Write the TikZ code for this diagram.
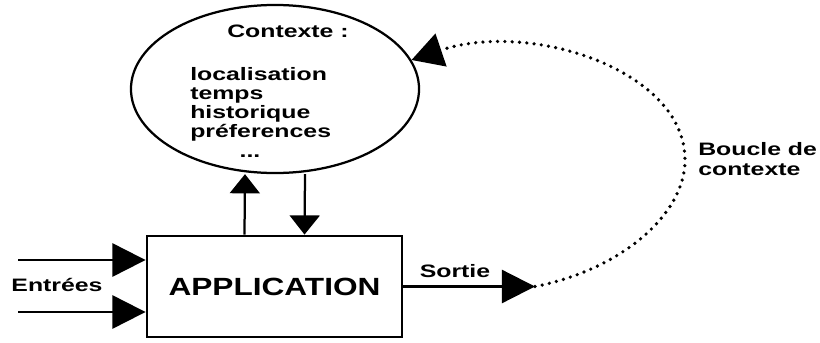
\documentclass[tikz,border=0pt]{standalone}
\usepackage{fontspec}
\usetikzlibrary{arrows.meta, shapes.geometric}
\newfontfamily\lblfont[FakeStretch=1.38]{Liberation Sans}
\newfontfamily\appfont[FakeStretch=1.27]{Liberation Sans}
\tikzset{
	lbl/.style={font=\lblfont\bfseries\fontsize{12.8}{14.2}\selectfont, inner sep=0pt},
	htip/.style={line width=1.6pt, -{Triangle[length=0.83cm, width=0.83cm]}},
	vtip/.style={line width=1.6pt, -{Triangle[length=0.48cm, width=0.75cm]}},
	ctxloop/.style={line width=2.6pt, line cap=round, dash pattern=on 0pt off 5.2pt, -{Triangle[length=0.78cm, width=0.85cm]}}
}
\begin{document}
\begin{tikzpicture}[x=0.025cm, y=-0.025cm]
			\useasboundingbox (0,0) rectangle (820,342);
			\node [draw, ellipse, line width=1.6pt, minimum width=7.2cm, minimum height=4.2cm, inner sep=0pt] (ctx) at (275,89) {};
			\node [lbl, anchor=base] (ctxtitle) at (288,37) {Contexte :};
			\foreach \w [count=\i] in {localisation,temps,historique,préferences}{
				\node [lbl, anchor=base west] (item\i) at (190, 61+19*\i) {\w};}
			\node [lbl, anchor=base] (more) at (250,157) {...};
			
			\node [draw, line width=2pt, minimum width=6.375cm, minimum height=2.525cm, font=\appfont\bfseries\fontsize{17.7}{20}\selectfont] (app) at (274.5,286.5) {APPLICATION};
			
			\coordinate (in1) at (18,260);
			\coordinate (in2) at (18,312);
			\coordinate (out) at (535,286.5);
			\coordinate (far) at (685,160);
			\foreach \k in {1,2}{
				\draw [htip] (in\k) -- (app.west |- in\k);}
			\node [lbl, anchor=base] (inputs) at (57,291) {Entrées};
			
			\draw [vtip] ([xshift=-0.75cm]app.north) -- ([xshift=-0.75cm]ctx.south);
			\draw [vtip] ([xshift=0.75cm]ctx.south) -- ([xshift=0.75cm]app.north);
			
			\draw [htip] (app.east) -- (out);
			\node [lbl, anchor=base] (output) at (455,277) {Sortie};
			
			\draw [ctxloop] (out) .. controls (620,270) and (685,215) .. (far) .. controls (685,70) and (530,20) .. (ctx.12);
			\node [lbl, anchor=north west, align=left] (loopname) at (698,142) {Boucle de\\contexte};
		\end{tikzpicture}
\end{document}
